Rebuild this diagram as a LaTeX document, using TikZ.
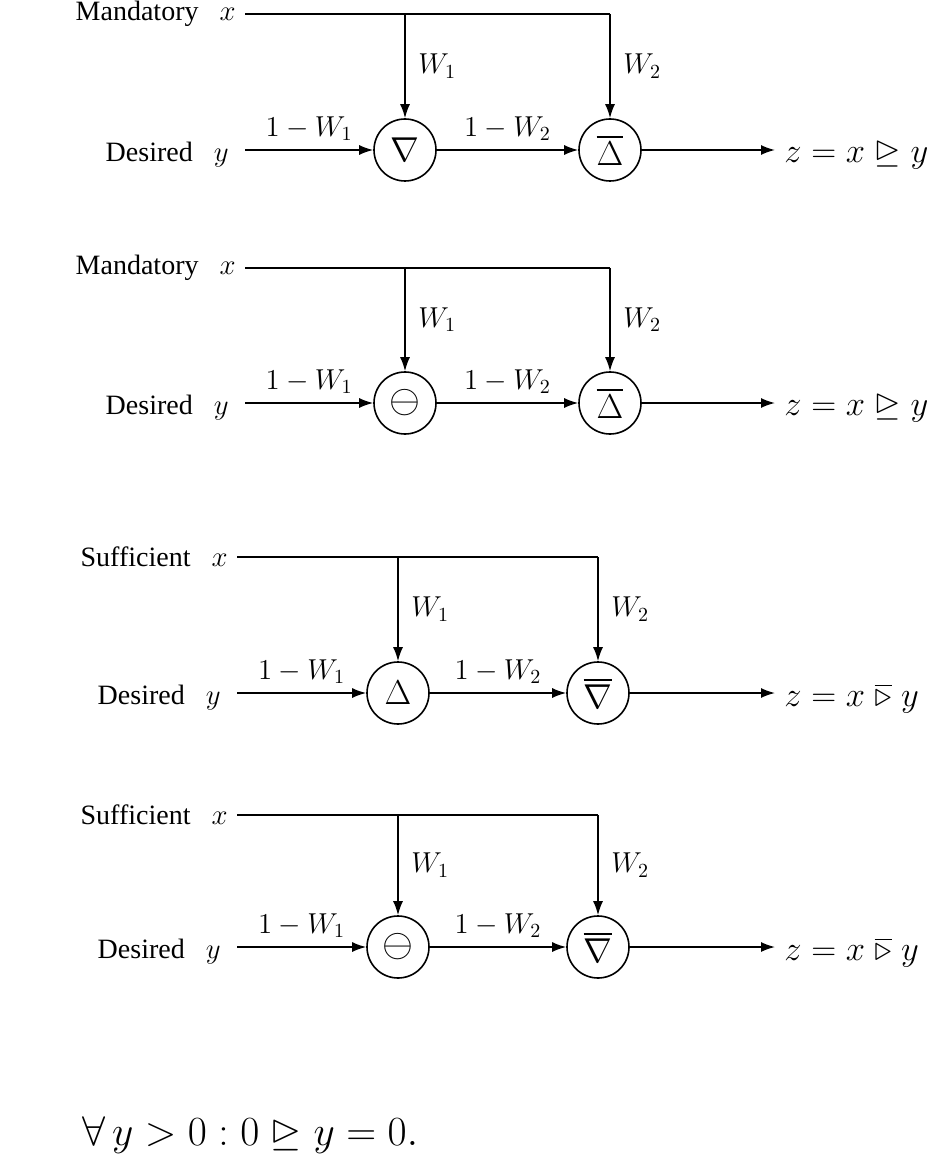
\documentclass[tikz,border=0pt]{standalone}
\usepackage{amssymb}
\usepackage{graphicx}
\usepackage{fontspec}
\setmainfont{Liberation Serif}
\usetikzlibrary{arrows.meta}
\begin{document}
\begin{tikzpicture}[x=0.5pt,y=-0.5pt,font=\fontsize{14}{16}\selectfont,
  op/.style={draw,circle,minimum size=31pt,inner sep=0pt,line width=0.8pt,font=\fontsize{17}{19}\selectfont},
  ln/.style={line width=0.8pt},
  arr/.style={ln,-{Latex[length=7pt,width=5pt]}},
  lab/.style={inner sep=2pt}]
\useasboundingbox (0,0) rectangle (938,1176);
\foreach \i/\yx/\yc/\xa/\xb/\xs/\word/\sa/\sb/\out in {
 1/14/150/405/610/245/Mandatory/{\nabla}/{\overline{\Delta}}/{z=x\trianglerighteq y},
 2/268/403/405/610/245/Mandatory/{\scalebox{1.15}{$\ominus$}}/{\overline{\Delta}}/{z=x\trianglerighteq y},
 3/557/693/398/598/237/Sufficient/{\Delta}/{\overline{\nabla}}/{z=x\;\overline{\triangleright}\;y},
 4/815/947/398/598/237/Sufficient/{\scalebox{1.15}{$\ominus$}}/{\overline{\nabla}}/{z=x\;\overline{\triangleright}\;y}}{
  \node[op] (a\i) at (\xa,\yc) {$\sa$};
  \node[op] (b\i) at (\xb,\yc) {$\sb$};
  \coordinate (xs\i) at (\xs,\yx);
  \coordinate (ka\i) at (\xa,\yx);
  \coordinate (kb\i) at (\xb,\yx);
  \coordinate (ys\i) at (\xs,\yc);
  \coordinate (oe\i) at (775,\yc);
  \node[lab,anchor=east] (xl\i) at (\xs-5,\yx) {\word\enspace\ $x$};
  \node[lab,anchor=east] (yl\i) at (\xs-12,\yc+5) {Desired\enspace\ $y$};
  \draw[ln] (xs\i) -- (kb\i);
  \draw[arr] (ka\i) -- (a\i) node[pos=0.5,right=3pt] {$W_1$};
  \draw[arr] (kb\i) -- (b\i) node[pos=0.5,right=3pt] {$W_2$};
  \draw[arr] (ys\i) -- (a\i) node[pos=0.5,above=1pt] {$1-W_1$};
  \draw[arr] (a\i) -- (b\i) node[pos=0.5,above=1pt] {$1-W_2$};
  \draw[arr] (b\i) -- (oe\i);
  \node[lab,anchor=west,font=\fontsize{17}{19}\selectfont] (ol\i) at (780,\yc+5) {$\out$};
}
\node[anchor=west,font=\fontsize{20}{22}\selectfont] (f) at (75,1135) {$\forall\, y>0:0\trianglerighteq y=0.$};
\end{tikzpicture}
\end{document}
